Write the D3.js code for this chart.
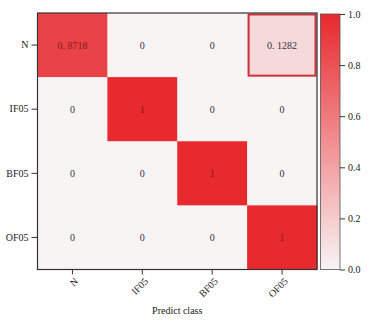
<!DOCTYPE html>
<html><head><meta charset="utf-8">
<script src="https://cdn.jsdelivr.net/npm/d3@7"></script>
<style>body{margin:0;background:#fff}svg{display:block}text{font-family:"Liberation Serif","DejaVu Serif",serif;}</style>
</head><body><svg id="c" width="374" height="330"></svg>
<script>
const classes = ["N","IF05","BF05","OF05"];
const values = [
  [0.8718, 0, 0, 0.1282],
  [0, 1, 0, 0],
  [0, 0, 1, 0],
  [0, 0, 0, 1]
];
const cellLabels = [
  ["0. 8718","0","0","0. 1282"],
  ["0","1","0","0"],
  ["0","0","1","0"],
  ["0","0","0","1"]
];
const cbTicks = [0,0.2,0.4,0.6,0.8,1.0];
const highlight = [[0,3]];
const xTitle = "Predict class";

const svg = d3.select("#c");
const L=37.5, T=13, R=317, B=269.5;
const x = d3.scaleBand().domain(classes).range([L,R]);
const y = d3.scaleBand().domain(classes).range([T,B]);
const color = d3.scaleLinear().domain([0,1]).range(["#f8f4f4","#e8292e"]);

const cells=[];
values.forEach((row,i)=>row.forEach((v,j)=>cells.push({r:classes[i],c:classes[j],v,t:cellLabels[i][j]})));
svg.selectAll("rect.cell").data(cells).enter().append("rect")
  .attr("x",d=>x(d.c)).attr("y",d=>y(d.r)).attr("width",x.bandwidth()+0.5).attr("height",y.bandwidth()+0.5)
  .attr("fill",d=>color(d.v));
svg.selectAll("text.cell").data(cells).enter().append("text")
  .attr("x",d=>x(d.c)+x.bandwidth()/2).attr("y",d=>y(d.r)+y.bandwidth()/2)
  .attr("text-anchor","middle").attr("dominant-baseline","central")
  .attr("font-size",10).attr("fill",d=>d.v>0.5?"#7a1c1c":"#333").text(d=>d.t);
highlight.forEach(([i,j])=>{
  svg.append("rect").attr("x",x(classes[j])+1.5).attr("y",y(classes[i])+1.5)
    .attr("width",x.bandwidth()-3).attr("height",y.bandwidth()-3)
    .attr("fill","none").attr("stroke","#c8373b").attr("stroke-width",2);
});
svg.append("rect").attr("x",L).attr("y",T).attr("width",R-L).attr("height",B-T)
  .attr("fill","none").attr("stroke","#333").attr("stroke-width",1.2);

// y axis
const ya = svg.append("g").attr("transform",`translate(${L},0)`).call(d3.axisLeft(y).tickSize(6).tickPadding(3));
ya.select(".domain").remove();
ya.selectAll("line").attr("stroke","#333");
ya.selectAll("text").attr("font-size",10).attr("fill","#222").style("font-family","Liberation Serif");
// x axis
const xa = svg.append("g").attr("transform",`translate(0,${B})`).call(d3.axisBottom(x).tickSize(5));
xa.select(".domain").remove();
xa.selectAll("line").attr("stroke","#333");
xa.selectAll("text").attr("font-size",10).attr("fill","#222").style("font-family","Liberation Serif")
  .attr("text-anchor","end").attr("dy",null).attr("dominant-baseline","central")
  .attr("transform","translate(4,10) rotate(-45)").attr("y",0).attr("x",0);
svg.append("text").attr("x",(L+R)/2).attr("y",314).attr("text-anchor","middle")
  .attr("font-size",10).attr("fill","#222").text(xTitle);

// colorbar
const cbX=320.5, cbW=19.5;
const cy = d3.scaleLinear().domain([0,1]).range([B,T+1]);
const defs = svg.append("defs");
const g = defs.append("linearGradient").attr("id","cbg").attr("x1",0).attr("y1",1).attr("x2",0).attr("y2",0);
g.append("stop").attr("offset","0%").attr("stop-color",color(0));
g.append("stop").attr("offset","100%").attr("stop-color",color(1));
svg.append("rect").attr("x",cbX).attr("y",cy(1)).attr("width",cbW).attr("height",cy(0)-cy(1))
  .attr("fill","url(#cbg)").attr("stroke","#555").attr("stroke-width",0.8);
const ca = svg.append("g").attr("transform",`translate(${cbX+cbW},0)`)
  .call(d3.axisRight(cy).tickValues(cbTicks).tickFormat(d3.format(".1f")).tickSize(5).tickPadding(3));
ca.select(".domain").remove();
ca.selectAll("line").attr("stroke","#333");
ca.selectAll("text").attr("font-size",10).attr("fill","#222").style("font-family","Liberation Serif");
</script></body></html>
